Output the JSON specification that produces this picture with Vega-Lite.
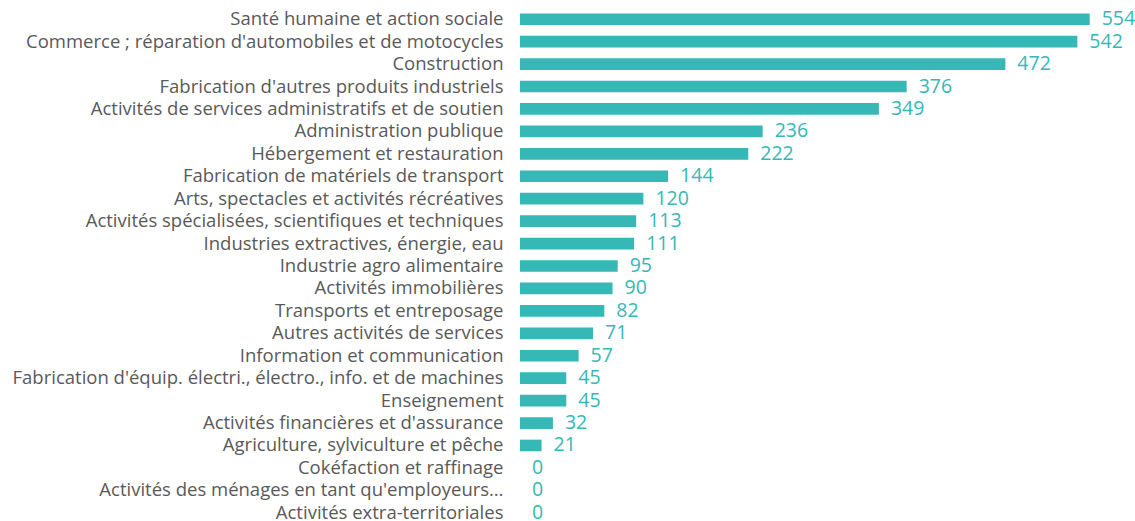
{
  "$schema": "https://vega.github.io/schema/vega-lite/v6.json",
  "autosize": {"type": "none"},
  "width": 617,
  "height": 516,
  "padding": {"left": 520, "top": 8, "right": 0, "bottom": 0},
  "background": "white",
  "config": {"view": {"stroke": null}, "font": "Open Sans"},
  "data": {"values": [
    {"secteur": "Santé humaine et action sociale", "valeur": 554},
    {"secteur": "Commerce ; réparation d'automobiles et de motocycles", "valeur": 542},
    {"secteur": "Construction", "valeur": 472},
    {"secteur": "Fabrication d'autres produits industriels", "valeur": 376},
    {"secteur": "Activités de services administratifs et de soutien", "valeur": 349},
    {"secteur": "Administration publique", "valeur": 236},
    {"secteur": "Hébergement et restauration", "valeur": 222},
    {"secteur": "Fabrication de matériels de transport", "valeur": 144},
    {"secteur": "Arts, spectacles et activités récréatives", "valeur": 120},
    {"secteur": "Activités spécialisées, scientifiques et techniques", "valeur": 113},
    {"secteur": "Industries extractives, énergie, eau", "valeur": 111},
    {"secteur": "Industrie agro alimentaire", "valeur": 95},
    {"secteur": "Activités immobilières", "valeur": 90},
    {"secteur": "Transports et entreposage", "valeur": 82},
    {"secteur": "Autres activités de services", "valeur": 71},
    {"secteur": "Information et communication", "valeur": 57},
    {"secteur": "Fabrication d'équip. électri., électro., info. et de machines", "valeur": 45},
    {"secteur": "Enseignement", "valeur": 45},
    {"secteur": "Activités financières et d'assurance", "valeur": 32},
    {"secteur": "Agriculture, sylviculture et pêche", "valeur": 21},
    {"secteur": "Cokéfaction et raffinage", "valeur": 0},
    {"secteur": "Activités des ménages en tant qu'employeurs…", "valeur": 0},
    {"secteur": "Activités extra-territoriales", "valeur": 0}
  ]},
  "encoding": {
    "y": {
      "field": "secteur", "type": "nominal", "sort": null,
      "scale": {"paddingInner": 0.48, "paddingOuter": 0.24},
      "axis": {"title": null, "ticks": false, "domain": false, "labelFontSize": 18.5, "labelColor": "#595959", "labelPadding": 17, "labelLimit": 600, "labelFont": "Open Sans"}
    },
    "x": {
      "field": "valeur", "type": "quantitative",
      "scale": {"domain": [0, 600], "nice": false},
      "axis": null
    }
  },
  "layer": [
    {"mark": {"type": "bar", "color": "#35B8B6"}},
    {"mark": {"type": "text", "align": "left", "dx": 12, "fontSize": 19.5, "color": "#35B8B6", "font": "Open Sans"},
     "encoding": {"text": {"field": "valeur", "type": "quantitative"}}}
  ]
}
